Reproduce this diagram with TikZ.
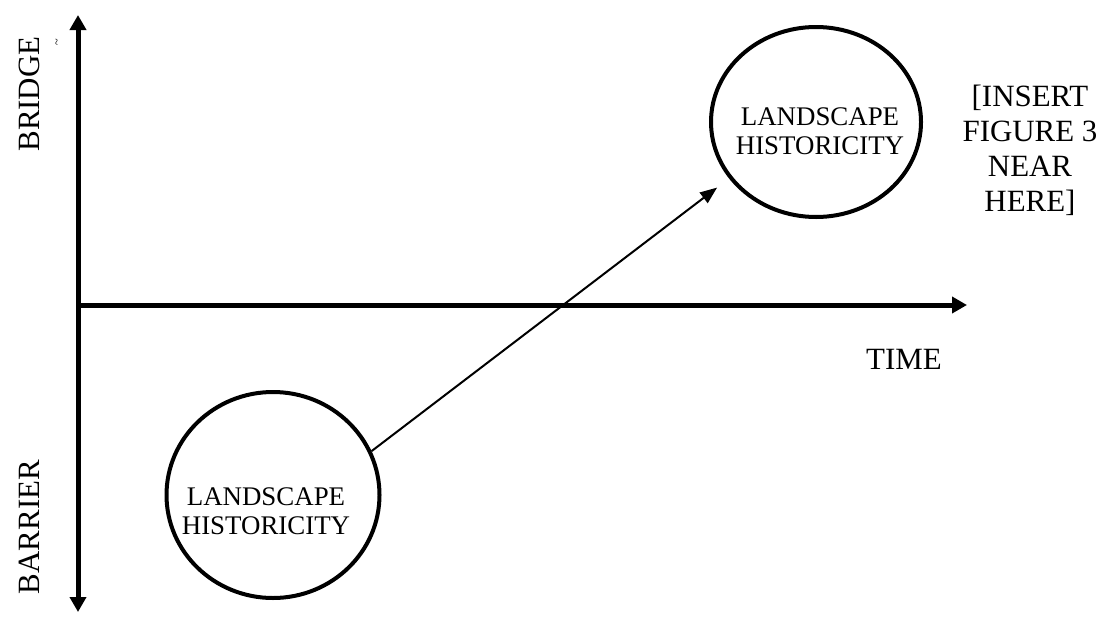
\documentclass[tikz,border=0pt]{standalone}
\usepackage{fontspec}
\setmainfont{Liberation Serif}
\usetikzlibrary{arrows.meta,shapes.geometric}

\tikzset{
  axis/.style={line width=0.1cm},
  hist/.style={draw, ellipse, line width=0.08cm, inner sep=0pt},
  histtext/.style={align=center, font=\fontsize{15.3}{16.8}\selectfont},
  bigtext/.style={align=center, font=\fontsize{17.6}{19.9}\selectfont},
  link/.style={line width=0.04cm, -{Triangle[length=0.34cm,width=0.26cm]}, shorten >=0.3cm}
}

\begin{document}
\begin{tikzpicture}
\useasboundingbox (0,0) rectangle (22.12,12.34);

% Axes
\coordinate (top) at (1.56,12.04);
\coordinate (bottom) at (1.56,0.10);
\coordinate (origin) at (1.56,6.24);
\coordinate (right) at (19.34,6.24);
\draw[axis, {Triangle[length=0.3cm,width=0.32cm]}-{Triangle[length=0.3cm,width=0.32cm]}] (bottom) -- (top);
\draw[axis, -{Triangle[length=0.3cm,width=0.32cm]}] (origin) -- (right);

% Axis labels
\node[bigtext, rotate=90] (bridge) at (0.58,10.46) {BRIDGE};
\node[bigtext, rotate=90] (barrier) at (0.58,1.80) {BARRIER};
\node[rotate=90, font=\scriptsize] (mark) at (1.16,11.50) {\textasciitilde};
\node[bigtext] (time) at (18.08,5.16) {TIME};

% Historicity ellipses
\node[hist, minimum width=4.2cm, minimum height=3.8cm] (hist1) at (16.32,9.90) {};
\node[histtext] (text1) at (16.40,9.72) {LANDSCAPE\\HISTORICITY};
\node[hist, minimum width=4.26cm, minimum height=4.12cm] (hist2) at (5.46,2.44) {};
\node[histtext] (text2) at (5.32,2.12) {LANDSCAPE\\HISTORICITY};

\draw[link] (hist2.24) -- (hist1.213);

% Note
\node[bigtext] (note) at (20.60,9.34) {[INSERT\\FIGURE 3\\NEAR\\HERE]};

\end{tikzpicture}
\end{document}
